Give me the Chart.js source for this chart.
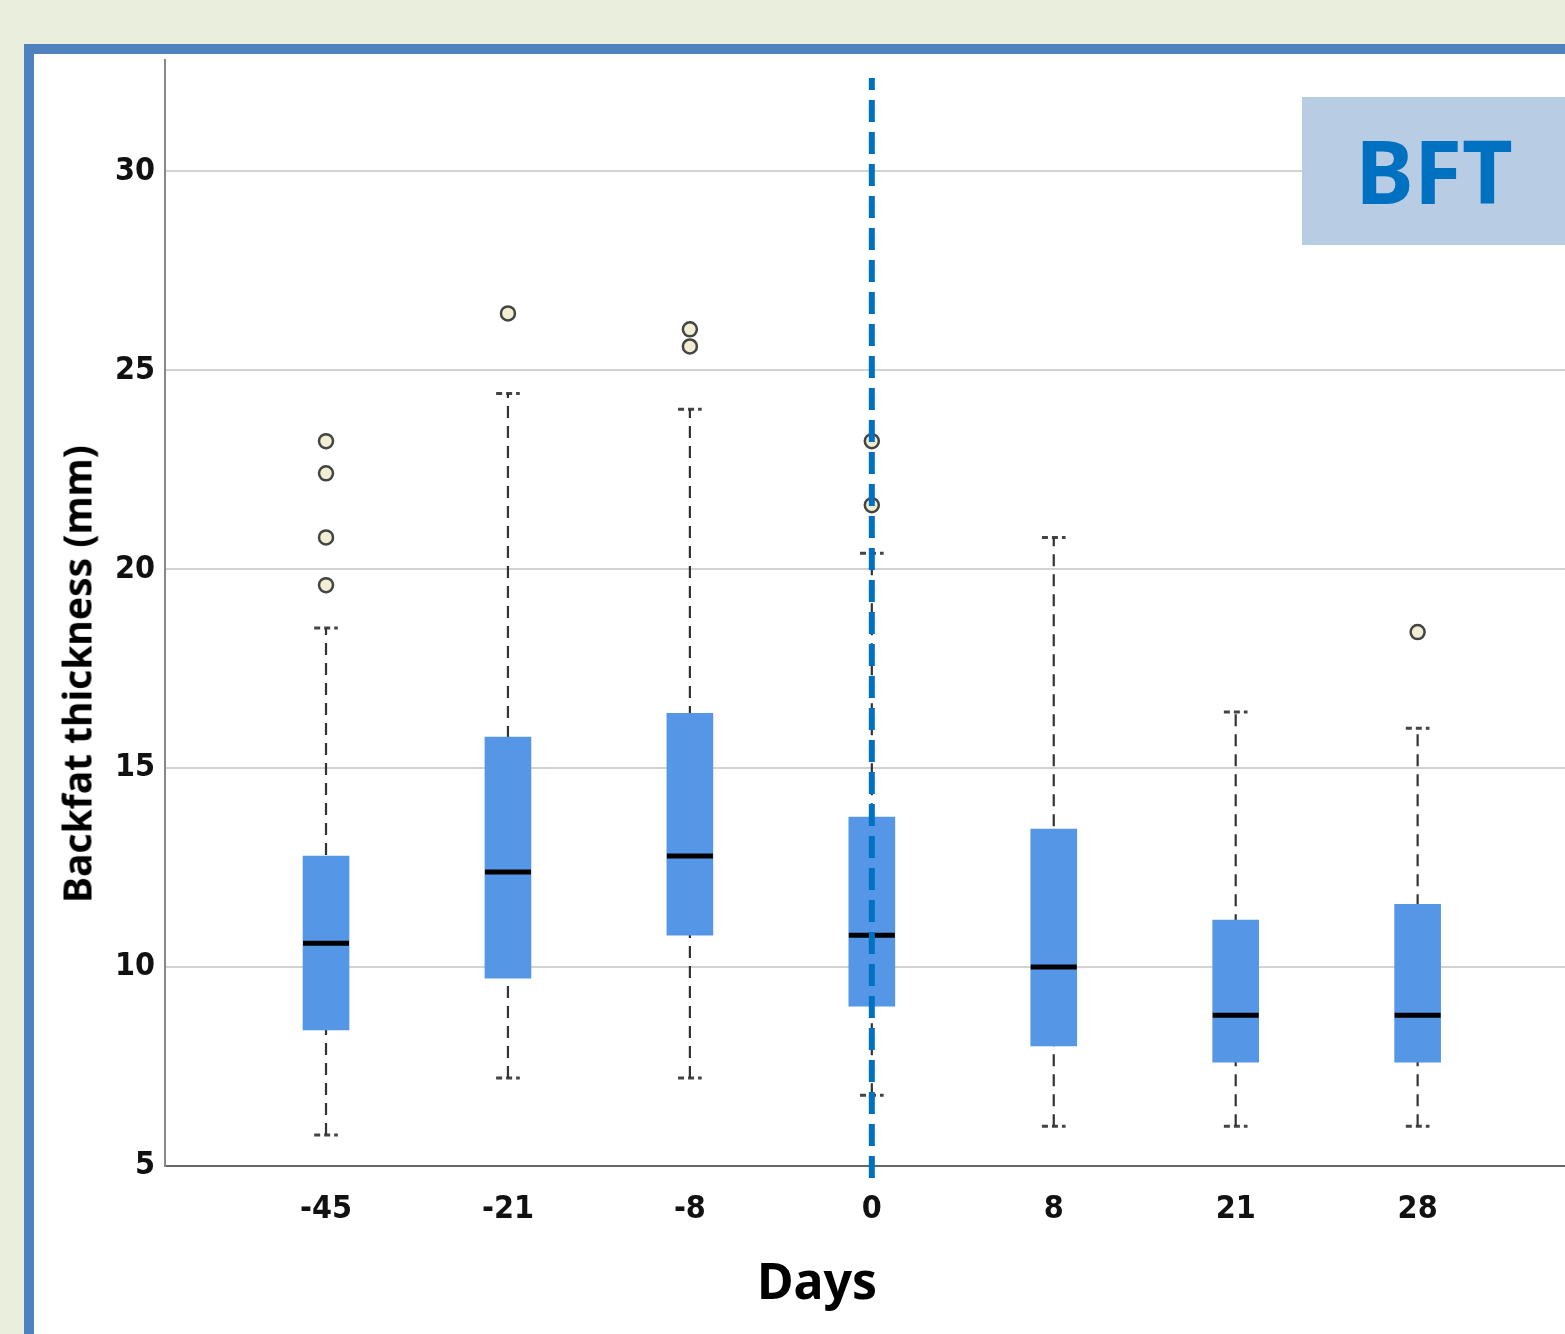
<!DOCTYPE html>
<html>
<head>
<meta charset="utf-8">
<script src="https://cdn.jsdelivr.net/npm/chart.js@4.4.1/dist/chart.umd.min.js"></script>
<style>
html, body { margin: 0; padding: 0; }
body { width: 1565px; height: 1334px; background: #eaeedd; position: relative; overflow: hidden; font-family: "Noto Sans", sans-serif; }
#frame { position: absolute; left: 24px; top: 44px; width: 1600px; height: 1400px; background: #fff; border: 10px solid #4f81bd; box-sizing: border-box; }
#wrap { position: absolute; left: 0; top: 0; width: 1565px; height: 1334px; }
#ytitle { position: absolute; left: 76px; top: 674px; transform: translate(-50%, -50%) rotate(-90deg); font-weight: bold; font-size: 39px; white-space: nowrap; color: #000; }
#xtitle { position: absolute; left: 817px; top: 1280px; transform: translate(-50%, -50%); font-weight: bold; font-size: 50px; color: #000; }
#bft { position: absolute; left: 1302px; top: 97px; width: 300px; height: 148px; background: #b8cce4; }
#bft span { position: absolute; left: 132px; top: 73px; transform: translate(-50%, -50%); font-weight: bold; font-size: 88px; line-height: 1; color: #0070c0; }
</style>
</head>
<body>
<div id="frame"></div>
<div id="wrap"><canvas id="bft_chart"></canvas></div>
<div id="ytitle">Backfat thickness (mm)</div>
<div id="xtitle">Days</div>
<div id="bft"><span>BFT</span></div>
<script>
// データ
var days = ['-45', '-21', '-8', '0', '8', '21', '28'];
var q1 = [8.42, 9.72, 10.80, 9.02, 8.02, 7.61, 7.61];
var q3 = [12.79, 15.78, 16.38, 13.77, 13.47, 11.18, 11.58];
var median = [10.60, 12.39, 12.79, 10.80, 10.00, 8.79, 8.79];
var whiskerLo = [5.78, 7.21, 7.21, 6.78, 6.00, 6.00, 6.00];
var whiskerHi = [18.52, 24.42, 24.02, 20.40, 20.80, 16.41, 16.00];
var outliers = [[23.22, 22.41, 20.80, 19.60], [26.43], [26.03, 25.60], [23.22, 21.61], [], [], [18.42]];
var yTicks = [5, 10, 15, 20, 25, 30];
var refDay = '0';          //縦の点線の位置
var refRange = [4.7, 32.35];

var capHalf = 0.065; //ヒゲの端の半分の幅

//箱
var boxData = days.map(function(d, i) { return { x: i, y: [q1[i], q3[i]] }; });

//ヒゲ
var whiskerData = [];
days.forEach(function(d, i) {
    whiskerData.push({ x: i, y: whiskerLo[i] }, { x: i, y: whiskerHi[i] }, { x: i, y: null });
});

//ヒゲの端
var capData = [];
days.forEach(function(d, i) {
    [whiskerLo[i], whiskerHi[i]].forEach(function(v) {
        capData.push({ x: i - capHalf, y: v }, { x: i + capHalf, y: v }, { x: i, y: null });
    });
});

//中央値
var medianData = days.map(function(d, i) { return { x: i, y: median[i] }; });

//外れ値
var outlierData = [];
outliers.forEach(function(arr, i) {
    arr.forEach(function(v) { outlierData.push({ x: i, y: v }); });
});

var refIndex = days.indexOf(refDay);
var refData = [{ x: refIndex, y: refRange[0] }, { x: refIndex, y: refRange[1] }];

var tickFont = { family: '"DejaVu Sans Condensed", "Liberation Sans Narrow", Arial, sans-serif', size: 32, weight: 'bold' };

var ctx = document.getElementById('bft_chart').getContext('2d');
var chart = new Chart(ctx, {
    type: 'bar',
    data: {
        datasets: [
            {
                type: 'line',
                data: refData,
                borderColor: '#0070c0',
                borderWidth: 6,
                borderDash: [22, 10],
                pointRadius: 0,
                clip: false,
                order: 0
            },
            {
                type: 'scatter',
                data: outlierData,
                pointRadius: 7,
                backgroundColor: '#f2eed3',
                borderColor: '#444',
                borderWidth: 2.5,
                order: 1
            },
            {
                type: 'scatter',
                data: medianData,
                pointStyle: 'line',
                pointRadius: 23,
                borderColor: '#000',
                borderWidth: 5,
                order: 1
            },
            {
                type: 'bar',
                data: boxData,
                backgroundColor: '#5597e6',
                borderWidth: 0,
                barThickness: 46,
                order: 2
            },
            {
                type: 'line',
                data: whiskerData,
                borderColor: '#333',
                borderWidth: 2.2,
                borderDash: [12, 8],
                pointRadius: 0,
                spanGaps: false,
                order: 3
            },
            {
                type: 'line',
                data: capData,
                borderColor: '#444',
                borderWidth: 3,
                borderDash: [6, 4],
                pointRadius: 0,
                spanGaps: false,
                order: 3
            }
        ]
    },
    options: {
        responsive: true,
        maintainAspectRatio: false,
        devicePixelRatio: 1,
        animation: false,
        events: [],
        layout: { autoPadding: false, padding: { top: 60, left: 0, right: 0, bottom: 0 } },
        plugins: {
            legend: { display: false },
            tooltip: { enabled: false }
        },
        scales: {
            x: {
                type: 'linear',
                offset: false,
                min: -0.885,
                max: 6.81,
                afterBuildTicks: function(s) { s.ticks = days.map(function(d, i) { return { value: i }; }); },
                afterFit: function(s) { s.height = 168; s.paddingLeft = 0; s.paddingRight = 0; },
                grid: { display: false, drawTicks: false, offset: false },
                border: { display: true, color: '#666', width: 2 },
                ticks: {
                    padding: 24,
                    color: '#111',
                    font: tickFont,
                    maxRotation: 0,
                    callback: function(v) { return days[v]; }
                }
            },
            y: {
                min: 5,
                max: 32.8,
                afterBuildTicks: function(s) { s.ticks = yTicks.map(function(v) { return { value: v }; }); },
                afterFit: function(s) { s.width = 165; },
                grid: { color: '#d2d2d2', lineWidth: 2, drawTicks: false },
                border: { display: true, color: '#888', width: 2 },
                ticks: {
                    padding: 10,
                    color: '#111',
                    font: tickFont
                }
            }
        }
    }
});
</script>
</body>
</html>
